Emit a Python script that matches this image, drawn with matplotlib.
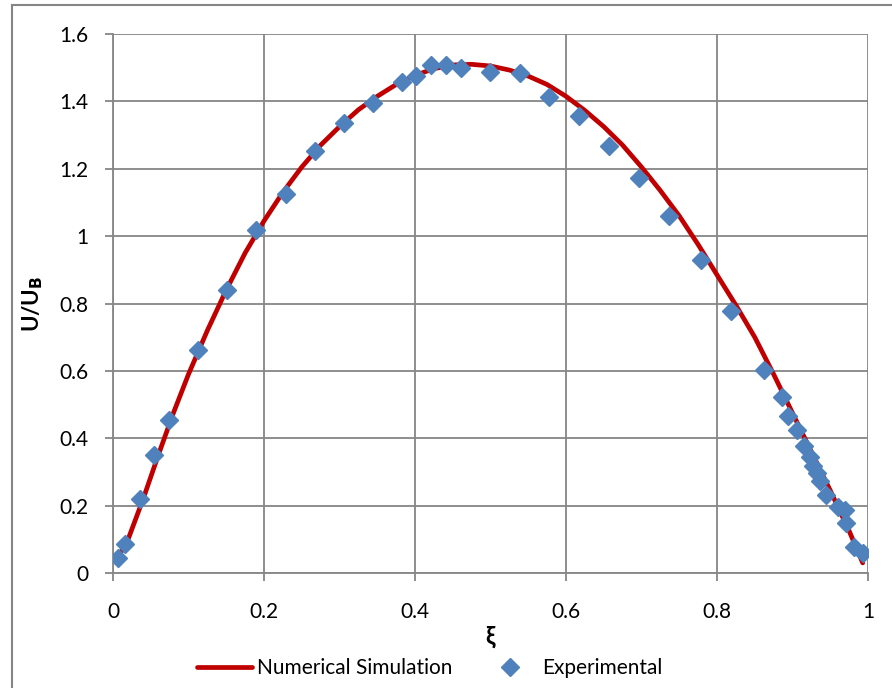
import numpy as np
import matplotlib
matplotlib.use("Agg")
import matplotlib.pyplot as plt
from matplotlib.lines import Line2D

plt.rcParams['font.family'] = ['Lato', 'DejaVu Sans']

# Numerical simulation curve
sim_x = [0.005, 0.02, 0.04, 0.06, 0.08, 0.10, 0.125, 0.15, 0.175, 0.20,
         0.225, 0.25, 0.275, 0.30, 0.325, 0.35, 0.375, 0.40, 0.425, 0.45,
         0.475, 0.50, 0.525, 0.55, 0.575, 0.60, 0.625, 0.65, 0.675, 0.70,
         0.725, 0.75, 0.775, 0.80, 0.825, 0.85, 0.875, 0.90, 0.925, 0.95,
         0.975, 0.993]
sim_y = [0.04, 0.10, 0.22, 0.35, 0.475, 0.59, 0.72, 0.84, 0.95, 1.045,
         1.13, 1.205, 1.27, 1.325, 1.375, 1.415, 1.45, 1.477, 1.497, 1.508,
         1.51, 1.505, 1.493, 1.475, 1.45, 1.415, 1.373, 1.325, 1.27, 1.205,
         1.135, 1.06, 0.975, 0.885, 0.795, 0.70, 0.59, 0.475, 0.36, 0.245,
         0.125, 0.03]

# Experimental points
exp_x = [0.007, 0.016, 0.036, 0.054, 0.074, 0.113, 0.151, 0.189, 0.229, 0.267,
         0.306, 0.344, 0.383, 0.401, 0.421, 0.441, 0.461, 0.499, 0.539, 0.577,
         0.617, 0.657, 0.697, 0.737, 0.779, 0.819, 0.862, 0.886, 0.894, 0.906,
         0.915, 0.923, 0.927, 0.932, 0.937, 0.945, 0.960, 0.970, 0.971, 0.981,
         0.993]
exp_y = [0.045, 0.086, 0.22, 0.35, 0.454, 0.662, 0.84, 1.018, 1.125, 1.252,
         1.335, 1.395, 1.457, 1.475, 1.507, 1.507, 1.50, 1.487, 1.484, 1.412,
         1.356, 1.267, 1.172, 1.059, 0.929, 0.777, 0.602, 0.522, 0.466, 0.424,
         0.377, 0.344, 0.318, 0.297, 0.273, 0.231, 0.196, 0.187, 0.148, 0.077,
         0.059]

xticks = [0, 0.2, 0.4, 0.6, 0.8, 1]
xtick_labels = ['0', '0.2', '0.4', '0.6', '0.8', '1']
yticks = [0, 0.2, 0.4, 0.6, 0.8, 1, 1.2, 1.4, 1.6]
ytick_labels = ['0', '0.2', '0.4', '0.6', '0.8', '1', '1.2', '1.4', '1.6']

red = '#C00000'
blue = '#4F81BD'
gray = '#868686'

fig = plt.figure(figsize=(8.92, 6.88), dpi=100)
ax = fig.add_axes([113 / 892, 1 - 573 / 688, 755 / 892, 539 / 688])

ax.plot(sim_x, sim_y, color=red, lw=3.4, solid_capstyle='round',
        solid_joinstyle='round', label='Numerical Simulation', zorder=3)
ax.plot(exp_x, exp_y, linestyle='none', marker='D', ms=9.5, color=blue,
        markeredgecolor=blue, label='Experimental', zorder=4)

ax.set_xlim(0, 1)
ax.set_ylim(0, 1.6)
ax.set_xticks(xticks)
ax.set_xticklabels(xtick_labels)
ax.set_yticks(yticks)
ax.set_yticklabels(ytick_labels)
ax.grid(True, color=gray, lw=1.3)
ax.set_axisbelow(True)

for side in ['top', 'right']:
    ax.spines[side].set_visible(False)
for side in ['left', 'bottom']:
    ax.spines[side].set_color(gray)
    ax.spines[side].set_linewidth(1.3)

ax.tick_params(axis='both', colors=gray, length=5.8, width=1.3, labelsize=15,
               labelcolor='black')
ax.tick_params(axis='y', pad=12)
ax.tick_params(axis='x', pad=15)

ax.set_xlabel('ξ', fontsize=17, fontweight='bold', labelpad=2)
ax.set_ylabel(r'U/U$_\mathbf{B}$', fontsize=16, fontweight='bold', labelpad=10)

fig.legend(loc='center', bbox_to_anchor=(0.482, 0.029), ncol=2, frameon=False,
           fontsize=15, handlelength=2.64, handletextpad=0.24, columnspacing=1.44,
           borderaxespad=0)

# outer chart border (cropped in the original)
fig.add_artist(Line2D([12 / 892, 12 / 892], [0, 1 - 5 / 688],
                      transform=fig.transFigure, color=gray, lw=1.5))
fig.add_artist(Line2D([12 / 892, 1], [1 - 5 / 688, 1 - 5 / 688],
                      transform=fig.transFigure, color=gray, lw=1.5))

fig.savefig('out.png', dpi=100)
